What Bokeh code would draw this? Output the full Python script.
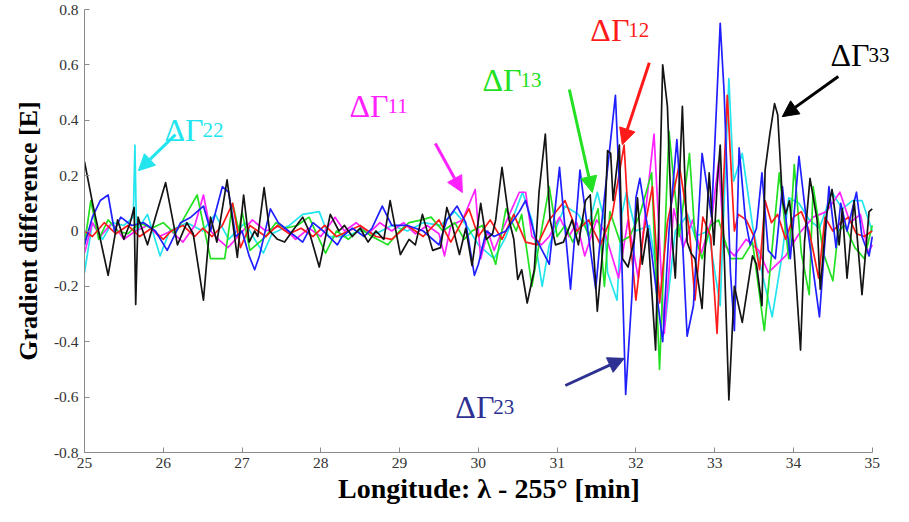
from bokeh.plotting import figure
from bokeh.models import Range1d, FixedTicker, Label, Arrow, NormalHead
from bokeh.embed import file_html
from bokeh.resources import INLINE

# ---- data ----
x33 = [25.0, 25.11, 25.3, 25.42, 25.5, 25.58, 25.63, 25.65, 25.68, 25.8, 25.9, 26.03, 26.18, 26.3, 26.38, 26.51, 26.6,
       26.68, 26.81, 26.94, 27.02, 27.09, 27.16, 27.2, 27.28, 27.35, 27.45, 27.54, 27.64, 27.77, 27.85, 27.98, 28.12,
       28.23, 28.3, 28.4, 28.5, 28.6, 28.7, 28.8, 28.88, 29.01, 29.12, 29.2, 29.29, 29.42, 29.52, 29.6, 29.67, 29.76,
       29.84, 29.92, 30.03, 30.1, 30.18, 30.22, 30.3, 30.39, 30.45, 30.5, 30.55, 30.62, 30.71, 30.77, 30.85, 30.91,
       30.98, 31.08, 31.19, 31.27, 31.36, 31.42, 31.51, 31.6, 31.64, 31.68, 31.71, 31.79, 31.83, 31.9, 31.98, 32.02,
       32.08, 32.15, 32.25, 32.34, 32.4, 32.46, 32.5, 32.59, 32.65, 32.7, 32.75, 32.84, 32.93, 32.99, 33.03, 33.07,
       33.11, 33.18, 33.25, 33.35, 33.48, 33.53, 33.6, 33.64, 33.7, 33.76, 33.8, 33.86, 33.9, 33.95, 34.01, 34.09,
       34.14, 34.21, 34.3, 34.34, 34.42, 34.49, 34.58, 34.62, 34.68, 34.77, 34.87, 34.96, 35.0]
y33 = [0.25, 0.09, -0.16, 0.04, -0.03, 0.03, 0.085, -0.265, 0.05, -0.05, 0.05, 0.175, -0.05, 0.03, -0.01, -0.25, 0.05,
       -0.04, 0.185, -0.095, 0.13, -0.04, 0.0, -0.02, 0.157, 0.0, -0.03, -0.04, 0.0, 0.05, 0.0, -0.13, 0.06,
       0.0, 0.02, -0.02, 0.01, -0.04, 0.0, -0.03, 0.11, -0.085, -0.03, -0.05, 0.06, -0.07, -0.06, 0.085, 0.02, -0.085,
       0.01, -0.125, 0.1, -0.03, -0.01, 0.04, 0.23, 0.04, -0.03, -0.175, -0.14, -0.26, -0.14, 0.14, 0.35, 0.04,
       -0.05, -0.04, 0.04, -0.05, 0.11, 0.13, -0.29, 0.0, 0.29, 0.28, 0.11, 0.31, -0.1, -0.13, -0.03, 0.12,
       -0.12, 0.01, -0.43, 0.6, 0.45, -0.03, -0.17, 0.45, -0.04, -0.08, -0.1, -0.28, 0.21, -0.05, 0.16, 0.31,
       0.01, -0.61, -0.2, -0.33, -0.09, -0.12, -0.27, 0.22, 0.35, 0.46, 0.42, 0.11, 0.06, 0.11, -0.08, -0.43,
       -0.04, 0.19, 0.04, -0.21, 0.06, 0.15, -0.05, 0.08, -0.17, 0.11, -0.23, 0.07, 0.08]

x23 = [25.0, 25.1, 25.2, 25.3, 25.38, 25.46, 25.6, 25.75, 25.9, 26.05, 26.22, 26.35, 26.51, 26.6, 26.75, 26.83, 26.92,
       27.0, 27.09, 27.16, 27.22, 27.36, 27.46, 27.59, 27.77, 27.9, 28.03, 28.21, 28.27, 28.4, 28.55, 28.65, 28.78,
       28.9, 29.1, 29.3, 29.5, 29.6, 29.73, 29.84, 29.95, 30.0, 30.1, 30.2, 30.35, 30.52, 30.6, 30.72, 30.9, 31.03,
       31.17, 31.29, 31.39, 31.49, 31.57, 31.74, 31.8, 31.87, 31.95, 32.0, 32.05, 32.1, 32.2, 32.34, 32.42, 32.52,
       32.56, 32.65, 32.73, 32.84, 32.96, 33.07, 33.12, 33.2, 33.25, 33.31, 33.39, 33.45, 33.53, 33.6, 33.68, 33.77,
       33.86, 33.96, 34.07, 34.16, 34.33, 34.45, 34.54, 34.6, 34.68, 34.8, 34.87, 34.96, 35.0]
y23 = [-0.05, 0.05, 0.11, 0.13, 0.0, 0.05, 0.02, 0.03, 0.0, -0.07, 0.03, 0.05, 0.09, 0.0, 0.16, 0.14, -0.02,
       0.0, -0.09, -0.14, -0.09, 0.08, 0.03, 0.0, -0.04, 0.03, 0.0, -0.05, -0.02, 0.01, -0.02, 0.01, 0.09,
       0.02, 0.02, 0.0, -0.05, 0.04, 0.09, 0.03, -0.16, -0.12, 0.0, -0.02, 0.0, 0.07, 0.11, -0.02, -0.12, 0.23,
       -0.21, 0.22, 0.0, -0.21, 0.04, 0.49, 0.1, -0.59, -0.23, 0.12, 0.19, 0.1, -0.08, -0.4, 0.0, 0.33,
       0.15, -0.38, -0.27, 0.28, 0.05, 0.75, 0.5, -0.15, -0.36, 0.3, 0.04, -0.05, 0.01, 0.21, -0.07, -0.1,
       0.16, -0.1, 0.27, 0.05, -0.31, 0.16, -0.06, 0.1, 0.0, 0.14, -0.02, -0.09, -0.02]

x12 = [25.0, 25.1, 25.25, 25.4, 25.55, 25.7, 25.85, 26.0, 26.1, 26.25, 26.4, 26.5, 26.62, 26.75, 26.88, 26.98, 27.1,
       27.3, 27.45, 27.6, 27.75, 27.9, 28.05, 28.2, 28.35, 28.5, 28.7, 28.9, 29.1, 29.3, 29.5, 29.65, 29.88, 30.0,
       30.15, 30.3, 30.45, 30.6, 30.75, 30.9, 31.1, 31.25, 31.4, 31.55, 31.7, 31.85, 31.9, 32.0, 32.1, 32.21, 32.3,
       32.4, 32.55, 32.68, 32.75, 32.85, 32.95, 33.03, 33.16, 33.25, 33.3, 33.4, 33.5, 33.57, 33.64, 33.72, 33.8,
       33.9, 34.0, 34.1, 34.2, 34.32, 34.4, 34.5, 34.6, 34.7, 34.8, 34.9, 35.0]
y12 = [0.0, -0.02, 0.03, -0.01, 0.02, -0.02, 0.01, -0.03, 0.0, 0.02, -0.02, 0.01, -0.02, 0.02, 0.1, -0.06, 0.02,
       -0.02, 0.02, -0.01, 0.01, -0.02, 0.02, -0.02, 0.0, 0.02, -0.02, -0.03, 0.02, -0.02, 0.04, -0.04, 0.08, -0.02,
       0.04, -0.03, 0.06, -0.04, -0.05, 0.04, 0.11, 0.0, 0.04, -0.05, 0.06, 0.31, 0.06, -0.25, 0.0, 0.16, -0.26,
       0.03, 0.24, 0.0, -0.25, 0.05, -0.02, -0.37, 0.49, 0.0, 0.06, 0.04, -0.02, -0.14, 0.11, 0.03, 0.06,
       -0.03, 0.05, 0.07, 0.0, -0.17, 0.05, 0.0, 0.03, 0.05, -0.01, -0.02, 0.0]

x13 = [25.0, 25.08, 25.18, 25.3, 25.42, 25.55, 25.7, 25.85, 26.0, 26.15, 26.25, 26.43, 26.6, 26.7, 26.78, 26.88, 26.96,
       27.0, 27.1, 27.3, 27.43, 27.55, 27.7, 27.85, 28.06, 28.2, 28.35, 28.5, 28.65, 28.85, 29.0, 29.12, 29.28, 29.4,
       29.55, 29.7, 29.82, 29.92, 30.05, 30.22, 30.35, 30.48, 30.55, 30.68, 30.8, 30.9, 31.0, 31.1, 31.2, 31.33,
       31.4, 31.52, 31.6, 31.67, 31.8, 31.92, 32.05, 32.2, 32.3, 32.42, 32.55, 32.68, 32.75, 32.84, 32.95, 33.05,
       33.2, 33.35, 33.48, 33.63, 33.82, 33.94, 34.01, 34.1, 34.2, 34.25, 34.38, 34.5, 34.57, 34.65, 34.78, 34.9, 35.0]
y13 = [-0.05, 0.11, -0.03, 0.04, 0.0, -0.01, 0.03, 0.01, 0.03, -0.01, 0.04, 0.13, -0.1, -0.1, -0.1, 0.1, 0.0,
       0.07, -0.07, -0.02, 0.03, 0.01, 0.02, 0.05, -0.08, 0.0, -0.03, 0.01, -0.02, -0.05, 0.0, 0.03, 0.04, 0.05,
       0.0, 0.03, -0.03, 0.0, 0.02, -0.12, 0.08, 0.0, 0.06, -0.2, 0.0, 0.16, -0.02, 0.02, -0.04, 0.04,
       -0.02, 0.08, -0.2, 0.07, -0.04, -0.02, 0.06, 0.21, -0.5, 0.36, -0.02, 0.28, -0.02, -0.1, 0.02, 0.04,
       -0.1, -0.1, -0.04, -0.36, 0.21, -0.1, 0.24, -0.08, -0.23, 0.16, -0.08, -0.18, 0.0, 0.02, -0.06, -0.1, 0.02]

x11 = [25.0, 25.1, 25.2, 25.35, 25.5, 25.65, 25.8, 25.95, 26.1, 26.25, 26.4, 26.51, 26.6, 26.7, 26.82, 26.95, 27.13,
       27.3, 27.5, 27.68, 27.85, 28.0, 28.18, 28.3, 28.45, 28.6, 28.75, 28.9, 29.05, 29.2, 29.35, 29.5, 29.57, 29.65,
       29.8, 29.96, 30.03, 30.12, 30.2, 30.3, 30.52, 30.6, 30.68, 30.8, 30.9, 31.03, 31.15, 31.25, 31.35, 31.5, 31.6,
       31.78, 31.9, 32.03, 32.23, 32.36, 32.48, 32.6, 32.72, 32.83, 32.96, 33.05, 33.12, 33.25, 33.4, 33.56, 33.68,
       33.9, 34.07, 34.25, 34.42, 34.59, 34.72, 34.85, 34.95, 35.0]
y11 = [-0.08, 0.03, -0.02, 0.03, -0.03, 0.0, 0.02, -0.02, 0.0, -0.04, 0.02, 0.13, 0.0, -0.03, -0.06, -0.02, 0.04,
       0.0, 0.02, -0.03, 0.01, -0.02, 0.05, 0.0, 0.03, -0.01, 0.03, 0.0, 0.03, -0.01, 0.02, -0.01, -0.09, 0.02,
       0.04, 0.15, -0.1, 0.0, -0.07, 0.0, 0.14, 0.14, -0.02, -0.05, -0.02, 0.05, -0.02, 0.03, -0.09, 0.04, 0.0,
       -0.17, 0.04, -0.17, 0.35, -0.37, 0.08, -0.06, 0.04, -0.08, 0.04, 0.25, -0.05, -0.09, -0.03, -0.07, -0.15,
       -0.09, -0.01, 0.05, 0.07, 0.14, 0.03, 0.06, -0.08, -0.05]

x22 = [25.0, 25.1, 25.23, 25.35, 25.5, 25.62, 25.64, 25.66, 25.8, 25.96, 26.08, 26.3, 26.5, 26.66, 26.83, 27.04, 27.16,
       27.27, 27.38, 27.6, 27.77, 27.98, 28.1, 28.3, 28.5, 28.7, 28.9, 29.1, 29.3, 29.52, 29.7, 29.85, 30.0, 30.2,
       30.35, 30.56, 30.68, 30.81, 30.9, 31.1, 31.27, 31.38, 31.51, 31.6, 31.64, 31.76, 31.82, 31.88, 32.0, 32.17,
       32.37, 32.5, 32.66, 32.75, 32.92, 33.07, 33.18, 33.24, 33.35, 33.48, 33.6, 33.73, 33.86, 33.94, 34.07, 34.2,
       34.33, 34.49, 34.62, 34.75, 34.87, 35.0]
y22 = [-0.15, 0.03, -0.03, 0.03, 0.02, 0.05, 0.31, 0.0, 0.06, -0.09, 0.0, 0.03, 0.0, 0.06, -0.03, 0.03, -0.03,
       -0.08, -0.01, 0.02, 0.06, 0.07, -0.02, -0.02, 0.0, -0.01, 0.02, 0.0, 0.03, 0.02, 0.07, 0.02, -0.05, -0.1,
       -0.02, 0.14, 0.04, -0.2, -0.05, 0.09, 0.06, 0.0, 0.14, 0.04, -0.15, -0.25, 0.06, 0.14, 0.0, 0.02,
       -0.34, 0.0, 0.06, -0.02, 0.0, -0.27, 0.55, 0.18, 0.28, 0.02, -0.15, -0.31, -0.08, 0.12, 0.1, 0.04,
       0.01, 0.14, 0.08, 0.11, 0.11, 0.0]

y_ticks = [-0.8, -0.6, -0.4, -0.2, 0.0, 0.2, 0.4, 0.6, 0.8]
x_ticks = [25, 26, 27, 28, 29, 30, 31, 32, 33, 34, 35]

C33, C23, C12, C13, C11, C22 = "#141414", "#1f1fff", "#ff1a1a", "#22e022", "#ff22ff", "#22e5ee"
NAVY = "#2e3192"
SERIF = "Liberation Serif"

p = figure(width=893, height=506, output_backend="svg", toolbar_location=None,
           x_range=Range1d(25, 35.27), y_range=Range1d(-0.8, 0.8),
           min_border_left=84, min_border_right=0, min_border_top=9, min_border_bottom=54)
p.outline_line_color = None
p.xgrid.visible = False
p.ygrid.visible = False
p.background_fill_color = "white"
p.border_fill_color = "white"

for xs, ys, c in [(x22, y22, C22), (x11, y11, C11), (x13, y13, C13), (x12, y12, C12), (x23, y23, C23), (x33, y33, C33)]:
    p.line(xs, ys, line_color=c, line_width=1.7, line_join="round")

for ax in (p.xaxis[0], p.yaxis[0]):
    ax.axis_line_color = "#8a8a8a"
    ax.major_tick_line_color = "#8a8a8a"
    ax.major_tick_in = 5
    ax.major_tick_out = 0
    ax.minor_tick_line_color = None
    ax.major_label_text_font = SERIF
    ax.major_label_text_font_size = "15.5px"
    ax.major_label_text_color = "#333333"
    ax.axis_label_text_font = SERIF
    ax.axis_label_text_font_style = "bold"
    ax.axis_label_text_color = "black"

p.xaxis[0].bounds = (25, 35)
p.xaxis[0].ticker = FixedTicker(ticks=x_ticks)
p.yaxis[0].ticker = FixedTicker(ticks=y_ticks)
p.yaxis[0].major_label_overrides = {v: ("0" if v == 0 else f"{v:.1f}") for v in y_ticks}
p.xaxis[0].axis_label = "Longitude: λ - 255° [min]"
p.yaxis[0].axis_label = "Gradient difference [E]"
p.xaxis[0].axis_label_text_font_size = "28px"
p.yaxis[0].axis_label_text_font_size = "26px"
p.xaxis[0].major_label_standoff = 5
p.xaxis[0].axis_label_standoff = 2
p.yaxis[0].major_label_standoff = 6
p.yaxis[0].axis_label_standoff = 8

# annotations: (main x, baseline y, subscript, color, arrow tail, arrow tip)
labels = [
    (26.015, 0.366, "22", C22, (26.155, 0.348), (25.685, 0.218)),
    (28.363, 0.450, "11", C11, (29.454, 0.316), (29.797, 0.139)),
    (30.051, 0.547, "13", C13, (31.155, 0.511), (31.447, 0.139)),
    (31.421, 0.727, "12", C12, (32.170, 0.608), (31.827, 0.312)),
    (34.470, 0.637, "33", "black", (34.569, 0.558), (33.858, 0.413)),
    (29.708, -0.637, "23", NAVY, (31.104, -0.558), (31.853, -0.460)),
]
for lx, ly, sub, c, tail, tip in labels:
    p.add_layout(Label(x=lx, y=ly, text="ΔΓ", text_font=SERIF, text_font_size="32px",
                       text_color=c, text_baseline="alphabetic"))
    p.add_layout(Label(x=lx, y=ly, x_offset=38, text=sub, text_font=SERIF, text_font_size="21px",
                       text_color=c, text_baseline="alphabetic"))
    p.add_layout(Arrow(end=NormalHead(size=16, fill_color=c, line_color=c),
                       x_start=tail[0], y_start=tail[1], x_end=tip[0], y_end=tip[1],
                       line_color=c, line_width=3))

open("out.html", "w").write(file_html(p, INLINE))
